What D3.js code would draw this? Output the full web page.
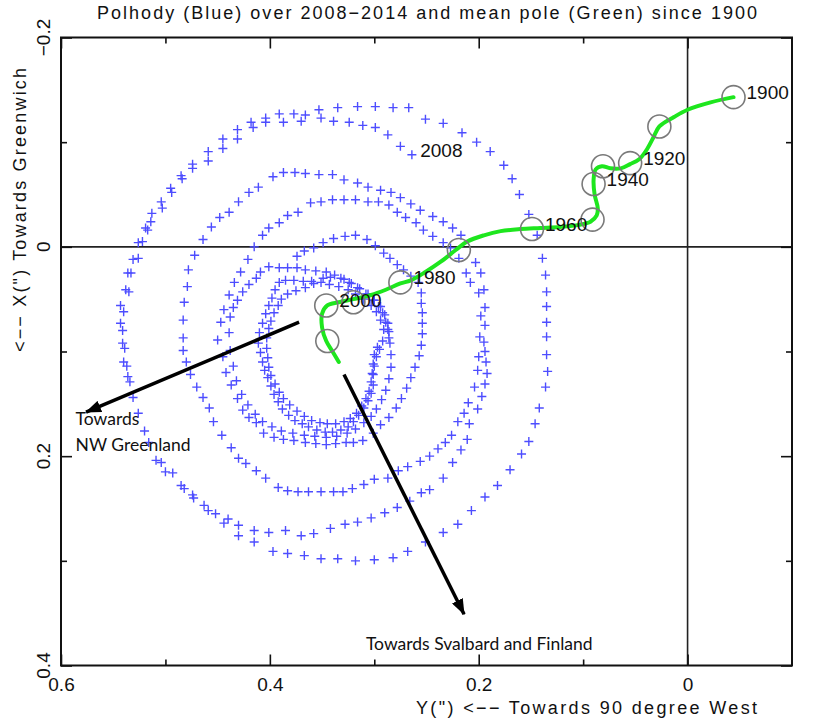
<!DOCTYPE html>
<html>
<head>
<meta charset="utf-8">
<script src="https://cdn.jsdelivr.net/npm/d3@7"></script>
<style>
  body { margin: 0; background: #fff; }
  svg { display: block; }
  text { font-family: "Liberation Sans", Arial, sans-serif; }
</style>
</head>
<body>
<svg></svg>
<script>
// tick values (arcseconds)
let xMajorTicks = [0.6, 0.4, 0.2, 0];
let xMinorTicks = [0.5, 0.3, 0.1];
let yMajorTicks = [-0.2, 0, 0.2, 0.4];
let yMinorTicks = [-0.1, 0.1, 0.3];

// polhody 2008-2014, points as [Y, X] in arcsec, read ring by ring
let ring1 = [[0.135,0.103],[0.135,0.086],[0.135,0.072],[0.135,0.057],[0.135,0.043],[0.136,0.027],[0.139,0.011],[0.144,-0.011],[0.152,-0.031],[0.161,-0.050],[0.168,-0.065],[0.176,-0.078],[0.189,-0.091],[0.202,-0.100],[0.216,-0.109],[0.234,-0.118],[0.251,-0.122],[0.267,-0.133],[0.282,-0.133],[0.299,-0.134],[0.316,-0.134],[0.335,-0.133],[0.353,-0.131],[0.366,-0.126],[0.377,-0.127],[0.391,-0.127],[0.404,-0.123],[0.418,-0.119],[0.431,-0.112],[0.445,-0.103],[0.459,-0.091],[0.474,-0.079],[0.485,-0.068],[0.495,-0.056],[0.504,-0.043],[0.513,-0.032],[0.519,-0.018],[0.526,-0.004],[0.531,0.012],[0.536,0.025],[0.538,0.041],[0.543,0.056],[0.543,0.073],[0.541,0.092],[0.540,0.110],[0.536,0.124],[0.531,0.144],[0.526,0.159],[0.520,0.176],[0.516,0.187],[0.509,0.204],[0.500,0.215],[0.485,0.228],[0.474,0.237],[0.463,0.247],[0.452,0.255],[0.444,0.264],[0.430,0.276],[0.415,0.282],[0.397,0.291],[0.383,0.293],[0.367,0.295],[0.351,0.298],[0.335,0.298],[0.318,0.300],[0.300,0.299],[0.282,0.297],[0.268,0.291],[0.251,0.282],[0.234,0.273],[0.220,0.265],[0.207,0.252],[0.194,0.239],[0.182,0.228],[0.170,0.213],[0.159,0.198],[0.152,0.186],[0.146,0.169],[0.142,0.154],[0.136,0.134],[0.134,0.119]];
let ring2 = [[0.264,-0.088],[0.275,-0.096],[0.287,-0.107],[0.299,-0.114],[0.311,-0.116],[0.324,-0.119],[0.339,-0.120],[0.351,-0.123],[0.370,-0.120],[0.387,-0.119],[0.404,-0.119],[0.416,-0.114],[0.431,-0.103],[0.445,-0.094],[0.459,-0.082],[0.474,-0.075],[0.484,-0.065],[0.494,-0.052],[0.503,-0.037],[0.514,-0.024],[0.517,-0.016],[0.522,-0.005],[0.526,0.011],[0.533,0.025],[0.535,0.043],[0.540,0.062],[0.541,0.080],[0.539,0.097],[0.537,0.114],[0.534,0.129],[0.504,0.206],[0.493,0.216],[0.482,0.231],[0.473,0.240],[0.459,0.252],[0.440,0.260],[0.430,0.266],[0.415,0.271],[0.401,0.273],[0.385,0.271],[0.370,0.276],[0.358,0.274],[0.342,0.269],[0.328,0.265],[0.316,0.263],[0.303,0.259],[0.290,0.254],[0.278,0.249],[0.266,0.243],[0.255,0.235],[0.247,0.232],[0.234,0.221],[0.225,0.206],[0.217,0.194],[0.211,0.184],[0.209,0.169],[0.201,0.155],[0.197,0.143],[0.194,0.131],[0.192,0.121],[0.193,0.110],[0.194,0.100],[0.195,0.091],[0.194,0.075],[0.194,0.058],[0.195,0.041],[0.198,0.025],[0.203,0.015]];
let ring3 = [[0.217,-0.011],[0.225,-0.018],[0.234,-0.024],[0.244,-0.029],[0.256,-0.035],[0.265,-0.041],[0.275,-0.047],[0.284,-0.052],[0.294,-0.054],[0.306,-0.057],[0.316,-0.061],[0.329,-0.064],[0.340,-0.069],[0.353,-0.069],[0.366,-0.070],[0.376,-0.071],[0.387,-0.071],[0.397,-0.067],[0.411,-0.057],[0.420,-0.052],[0.430,-0.043],[0.439,-0.033],[0.448,-0.028],[0.456,-0.019],[0.464,-0.007],[0.472,0.008],[0.478,0.022],[0.479,0.038],[0.482,0.053],[0.483,0.070],[0.483,0.087],[0.483,0.099],[0.480,0.110],[0.476,0.122],[0.470,0.134],[0.464,0.144],[0.458,0.154],[0.454,0.167],[0.446,0.180],[0.437,0.192],[0.430,0.202],[0.423,0.207],[0.413,0.214],[0.404,0.221],[0.392,0.230],[0.383,0.233],[0.373,0.234],[0.363,0.234],[0.351,0.234],[0.339,0.234],[0.330,0.234],[0.321,0.231],[0.310,0.227],[0.300,0.222],[0.287,0.221],[0.277,0.214],[0.268,0.210],[0.256,0.205],[0.247,0.200],[0.239,0.193],[0.232,0.187],[0.226,0.180],[0.220,0.167],[0.214,0.159],[0.210,0.149],[0.204,0.134],[0.201,0.118],[0.200,0.105],[0.199,0.086],[0.198,0.066],[0.200,0.044],[0.208,0.034],[0.212,0.025],[0.219,0.011]];
let ring4 = [[0.227,0.001],[0.234,-0.004],[0.244,-0.010],[0.253,-0.016],[0.260,-0.023],[0.270,-0.028],[0.278,-0.033],[0.286,-0.040],[0.296,-0.043],[0.306,-0.043],[0.318,-0.045],[0.329,-0.045],[0.340,-0.045],[0.351,-0.043],[0.361,-0.042],[0.373,-0.033],[0.383,-0.030],[0.391,-0.023],[0.401,-0.018],[0.407,-0.011],[0.415,0.000],[0.421,0.012],[0.428,0.024],[0.434,0.034],[0.439,0.046],[0.444,0.060],[0.447,0.072],[0.450,0.089],[0.445,0.105],[0.442,0.120],[0.437,0.132],[0.431,0.145],[0.426,0.156],[0.420,0.163],[0.413,0.168],[0.406,0.178],[0.396,0.182],[0.387,0.184],[0.377,0.185],[0.366,0.187],[0.356,0.188],[0.346,0.189],[0.337,0.188],[0.327,0.187],[0.320,0.187],[0.311,0.185],[0.301,0.178],[0.294,0.170],[0.286,0.163],[0.279,0.154],[0.274,0.145],[0.269,0.135],[0.265,0.125],[0.261,0.115],[0.257,0.104],[0.255,0.094],[0.254,0.083],[0.254,0.073],[0.254,0.063],[0.255,0.054],[0.255,0.044],[0.258,0.034],[0.265,0.028],[0.272,0.022],[0.278,0.017],[0.285,0.011],[0.291,0.006],[0.299,-0.001],[0.307,-0.007],[0.318,-0.011],[0.328,-0.010],[0.339,-0.008],[0.349,-0.004],[0.358,0.001],[0.367,0.004],[0.374,0.009]];
let ring5 = [[0.285,0.092],[0.286,0.081],[0.287,0.073],[0.290,0.065],[0.294,0.057],[0.300,0.051],[0.306,0.045],[0.314,0.040],[0.322,0.035],[0.329,0.031],[0.338,0.027],[0.346,0.024],[0.356,0.023],[0.366,0.022],[0.374,0.020],[0.383,0.020],[0.391,0.020],[0.401,0.019],[0.409,0.024],[0.413,0.030],[0.420,0.036],[0.426,0.043],[0.431,0.051],[0.435,0.058],[0.438,0.067],[0.439,0.082],[0.438,0.099],[0.435,0.114],[0.432,0.128],[0.427,0.141],[0.421,0.151],[0.414,0.160],[0.407,0.167],[0.398,0.172],[0.389,0.176],[0.378,0.178],[0.367,0.180],[0.357,0.181],[0.346,0.182],[0.336,0.181],[0.326,0.178],[0.318,0.174],[0.310,0.168],[0.303,0.162],[0.298,0.155],[0.293,0.146],[0.289,0.137],[0.286,0.126],[0.284,0.115],[0.284,0.103]];
let ring6 = [[0.292,0.090],[0.291,0.079],[0.294,0.070],[0.298,0.062],[0.303,0.056],[0.310,0.050],[0.318,0.045],[0.325,0.041],[0.334,0.038],[0.343,0.036],[0.351,0.034],[0.360,0.033],[0.368,0.033],[0.377,0.032],[0.385,0.032],[0.391,0.034],[0.395,0.041],[0.398,0.049],[0.401,0.056],[0.404,0.064],[0.407,0.073],[0.410,0.082],[0.411,0.092],[0.409,0.101],[0.407,0.110],[0.405,0.118],[0.402,0.125],[0.399,0.133],[0.396,0.141],[0.392,0.148],[0.388,0.155],[0.382,0.161],[0.376,0.166],[0.369,0.169],[0.363,0.172],[0.355,0.175],[0.347,0.177],[0.340,0.177],[0.332,0.175],[0.325,0.172],[0.320,0.167],[0.315,0.161],[0.310,0.154],[0.306,0.147],[0.303,0.140],[0.301,0.132],[0.301,0.122],[0.300,0.114],[0.298,0.105],[0.295,0.098]];
let ring7 = [[0.286,0.087],[0.287,0.079],[0.289,0.072],[0.292,0.063],[0.296,0.057],[0.301,0.051],[0.308,0.045],[0.316,0.039],[0.324,0.034],[0.332,0.030],[0.342,0.029],[0.349,0.030],[0.358,0.035],[0.366,0.039],[0.375,0.042],[0.383,0.045],[0.389,0.050],[0.392,0.056],[0.396,0.063],[0.399,0.071],[0.401,0.078],[0.403,0.087],[0.403,0.097],[0.402,0.106],[0.401,0.115],[0.399,0.123],[0.395,0.131],[0.391,0.139],[0.387,0.145],[0.381,0.151],[0.374,0.157],[0.367,0.162],[0.360,0.166],[0.352,0.168],[0.345,0.169],[0.337,0.169],[0.329,0.167],[0.323,0.164],[0.317,0.159],[0.312,0.152],[0.308,0.145],[0.305,0.138],[0.303,0.129],[0.302,0.121],[0.301,0.112],[0.300,0.103],[0.297,0.096]];

// mean pole path since 1900, [Y, X]
let meanPole = [[-0.044,-0.143],[-0.022,-0.138],[0.000,-0.131],[0.013,-0.124],[0.027,-0.115],[0.033,-0.104],[0.039,-0.093],[0.046,-0.084],[0.055,-0.079],[0.064,-0.075],[0.074,-0.075],[0.082,-0.077],[0.088,-0.074],[0.090,-0.064],[0.089,-0.050],[0.086,-0.037],[0.087,-0.030],[0.093,-0.024],[0.104,-0.021],[0.122,-0.019],[0.141,-0.018],[0.160,-0.017],[0.179,-0.015],[0.195,-0.011],[0.211,-0.005],[0.222,0.003],[0.236,0.014],[0.251,0.024],[0.265,0.032],[0.275,0.035],[0.289,0.041],[0.303,0.046],[0.320,0.050],[0.334,0.053],[0.345,0.056],[0.350,0.064],[0.350,0.077],[0.346,0.090],[0.340,0.100],[0.334,0.110]];

// decade markers: [year, Y, X]
let decades = [[1900,-0.044,-0.143],[1910,0.027,-0.115],[1920,0.055,-0.080],[1930,0.081,-0.077],[1940,0.090,-0.060],[1950,0.091,-0.026],[1960,0.149,-0.017],[1970,0.219,0.003],[1980,0.275,0.034],[1990,0.320,0.053],[2000,0.346,0.056],[2010,0.345,0.090]];
let labelledYears = [1900, 1920, 1940, 1960, 1980, 2000];

// annotations in data units
let startLabel = {text: '2008', y: 0.256, x: -0.086};
let arrows = [
    {from: [0.372, 0.072], to: [0.576, 0.158]},
    {from: [0.329, 0.122], to: [0.214, 0.351]}
];
let notes = [
    {lines: ['Towards', 'NW Greenland'], y: 0.586, x: 0.170},
    {lines: ['Towards Svalbard and Finland'], y: 0.308, x: 0.385}
];

let width = 825;
let height = 720;
let plotLeft = 61, plotRight = 792, plotTop = 37.5, plotBottom = 665.5;

let svg = d3.select('svg').attr('width', width).attr('height', height);

let xScale = d3.scaleLinear().domain([0.6, -0.1]).range([plotLeft, plotRight]);
let yScale = d3.scaleLinear().domain([-0.2, 0.4]).range([plotTop, plotBottom]);

let fmt = (d) => d === 0 ? '0' : d3.format('.1f')(d);

let drawFrame = () => {
    svg.append('line')
        .attr('x1', plotLeft).attr('x2', plotRight)
        .attr('y1', yScale(0)).attr('y2', yScale(0))
        .attr('stroke', '#222').attr('stroke-width', 1.6);
    svg.append('line')
        .attr('x1', xScale(0)).attr('x2', xScale(0))
        .attr('y1', plotTop).attr('y2', plotBottom)
        .attr('stroke', '#222').attr('stroke-width', 1.6);

    let addAxis = (axis, tx, ty) => {
        let g = svg.append('g')
            .attr('transform', 'translate(' + tx + ',' + ty + ')')
            .call(axis);
        g.select('.domain').remove();
        g.selectAll('line').attr('stroke', '#111').attr('stroke-width', 1.6);
        return g;
    };

    // minor ticks on all sides
    addAxis(d3.axisBottom(xScale).tickValues(xMinorTicks).tickSize(-6).tickFormat(''), 0, plotBottom);
    addAxis(d3.axisTop(xScale).tickValues(xMinorTicks).tickSize(-6).tickFormat(''), 0, plotTop);
    addAxis(d3.axisLeft(yScale).tickValues(yMinorTicks).tickSize(-6).tickFormat(''), plotLeft, 0);
    addAxis(d3.axisRight(yScale).tickValues(yMinorTicks).tickSize(-6).tickFormat(''), plotRight, 0);

    // major ticks
    let bx = addAxis(d3.axisBottom(xScale).tickValues(xMajorTicks).tickSize(-11).tickPadding(12).tickFormat(fmt), 0, plotBottom);
    bx.selectAll('text').attr('font-size', 19).attr('fill', '#111')
        .style('font-family', '"Liberation Sans", Arial, sans-serif');
    addAxis(d3.axisTop(xScale).tickValues(xMajorTicks).tickSize(-11).tickFormat(''), 0, plotTop);
    addAxis(d3.axisLeft(yScale).tickValues(yMajorTicks).tickSize(-11).tickFormat(''), plotLeft, 0);
    addAxis(d3.axisRight(yScale).tickValues(yMajorTicks).tickSize(-11).tickFormat(''), plotRight, 0);

    // rotated y labels
    svg.selectAll('.ylab')
        .data(yMajorTicks)
        .enter()
        .append('text')
        .attr('class', 'ylab')
        .attr('transform', (d) => 'translate(43,' + yScale(d) + ') rotate(-90)')
        .attr('text-anchor', 'middle')
        .attr('dy', '0.36em')
        .attr('font-size', 19)
        .attr('fill', '#111')
        .text(fmt);

    svg.append('rect')
        .attr('x', plotLeft).attr('y', plotTop)
        .attr('width', plotRight - plotLeft).attr('height', plotBottom - plotTop)
        .attr('fill', 'none').attr('stroke', '#111').attr('stroke-width', 2);
};

let drawTitles = () => {
    svg.append('text')
        .attr('x', 97).attr('y', 19)
        .attr('font-size', 18)
        .attr('textLength', 660).attr('lengthAdjust', 'spacing')
        .attr('fill', '#111')
        .text('Polhody (Blue) over 2008\u22122014 and mean pole (Green) since 1900');

    svg.append('text')
        .attr('x', 416).attr('y', 714)
        .attr('font-size', 18)
        .attr('textLength', 341).attr('lengthAdjust', 'spacing')
        .attr('fill', '#111')
        .text('Y(") <\u2212\u2212 Towards 90 degree West');

    svg.append('text')
        .attr('transform', 'translate(26,352) rotate(-90)')
        .attr('font-size', 18)
        .attr('textLength', 284).attr('lengthAdjust', 'spacing')
        .attr('fill', '#111')
        .text('<\u2212\u2212 X(") Towards Greenwich');
};

let drawPolhody = () => {
    let rings = [ring1, ring2, ring3, ring4, ring5, ring6, ring7];
    let points = rings.flat();
    svg.append('g')
        .selectAll('path')
        .data(points)
        .enter()
        .append('path')
        .attr('d', (d) => {
            let cx = xScale(d[0]), cy = yScale(d[1]);
            return 'M' + (cx - 4.5) + ',' + cy + 'H' + (cx + 4.5) + 'M' + cx + ',' + (cy - 4.5) + 'V' + (cy + 4.5);
        })
        .attr('stroke', '#4d4dff')
        .attr('stroke-width', 1.4)
        .attr('fill', 'none');

    svg.append('text')
        .attr('x', xScale(startLabel.y)).attr('y', yScale(startLabel.x))
        .attr('font-size', 19).attr('fill', '#111')
        .text(startLabel.text);
};

let drawMeanPole = () => {
    let line = d3.line()
        .x((d) => xScale(d[0]))
        .y((d) => yScale(d[1]))
        .curve(d3.curveCatmullRom.alpha(0.5));

    svg.append('path')
        .datum(meanPole)
        .attr('d', line)
        .attr('fill', 'none')
        .attr('stroke', '#1ee61e')
        .attr('stroke-width', 4)
        .attr('stroke-linecap', 'round');

    svg.append('g')
        .selectAll('circle')
        .data(decades)
        .enter()
        .append('circle')
        .attr('cx', (d) => xScale(d[1]))
        .attr('cy', (d) => yScale(d[2]))
        .attr('r', 11.5)
        .attr('fill', 'none')
        .attr('stroke', '#7a7a7a')
        .attr('stroke-width', 1.6);

    svg.append('g')
        .selectAll('text')
        .data(decades.filter((d) => labelledYears.includes(d[0])))
        .enter()
        .append('text')
        .attr('x', (d) => xScale(d[1]) + 13)
        .attr('y', (d) => yScale(d[2]) + 2)
        .attr('font-size', 19)
        .attr('fill', '#111')
        .text((d) => d[0]);
};

let drawNotes = () => {
    svg.append('defs')
        .append('marker')
        .attr('id', 'head')
        .attr('markerUnits', 'userSpaceOnUse')
        .attr('viewBox', '0 0 16 12')
        .attr('markerWidth', 16).attr('markerHeight', 12)
        .attr('refX', 15).attr('refY', 6)
        .attr('orient', 'auto')
        .append('path')
        .attr('d', 'M0,0L16,6L0,12Z')
        .attr('fill', '#000');

    svg.selectAll('.arrow')
        .data(arrows)
        .enter()
        .append('line')
        .attr('class', 'arrow')
        .attr('x1', (d) => xScale(d.from[0])).attr('y1', (d) => yScale(d.from[1]))
        .attr('x2', (d) => xScale(d.to[0])).attr('y2', (d) => yScale(d.to[1]))
        .attr('stroke', '#000')
        .attr('stroke-width', 3.5)
        .attr('marker-end', 'url(#head)');

    notes.forEach((n) => {
        let t = svg.append('text')
            .attr('x', xScale(n.y)).attr('y', yScale(n.x))
            .attr('font-size', 17.5)
            .attr('fill', '#111')
            .style('font-family', 'Lato, "Open Sans", sans-serif');
        n.lines.forEach((s, i) => {
            t.append('tspan')
                .attr('x', xScale(n.y))
                .attr('dy', i === 0 ? 0 : 26)
                .text(s);
        });
    });
};

drawFrame();
drawTitles();
drawPolhody();
drawMeanPole();
drawNotes();
</script>
</body>
</html>
